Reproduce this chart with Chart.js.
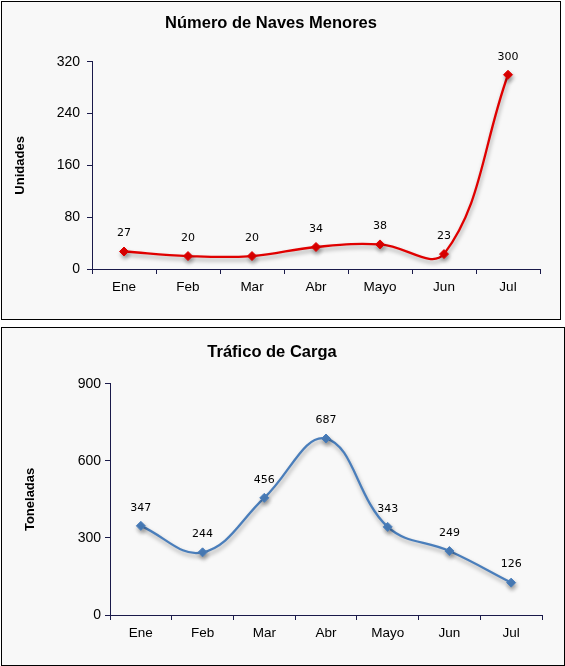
<!DOCTYPE html>
<html>
<head>
<meta charset="utf-8">
<script src="https://cdn.jsdelivr.net/npm/chart.js"></script>
<style>
  body { margin: 0; background: #fff; }
  .box { position: absolute; border: 1px solid #000; box-sizing: border-box; background: #f8f8f8; }
  #box1 { left: 1px; top: 1px; width: 560px; height: 319px; }
  #box2 { left: 1px; top: 327px; width: 564px; height: 339px; }
</style>
</head>
<body>
<div class="box" id="box1"><canvas id="graphCanvas"></canvas></div>
<div class="box" id="box2"><canvas id="graphCanvas2"></canvas></div>
<script>
var meses = ["Ene", "Feb", "Mar", "Abr", "Mayo", "Jun", "Jul"];
var naves = [27, 20, 20, 34, 38, 23, 300];
var carga = [347, 244, 456, 687, 343, 249, 126];
var navesTicks = [0, 80, 160, 240, 320];
var cargaTicks = [0, 300, 600, 900];

var axisColor = "#1a1a4a";

// sombra bajo la linea, como en Excel
var shadowPlugin = {
  id: "shadow",
  beforeDatasetsDraw: function (chart) {
    var ctx = chart.ctx;
    ctx.save();
    ctx.shadowColor = "rgba(0,0,0,0.35)";
    ctx.shadowBlur = 4;
    ctx.shadowOffsetX = 1;
    ctx.shadowOffsetY = 3;
  },
  afterDatasetsDraw: function (chart) {
    chart.ctx.restore();
  }
};

// etiquetas de valor encima de cada punto
var labelPlugin = {
  id: "valueLabels",
  afterDraw: function (chart) {
    var ctx = chart.ctx;
    var ds = chart.data.datasets[0];
    var meta = chart.getDatasetMeta(0);
    ctx.save();
    ctx.font = "11px 'DejaVu Sans'";
    ctx.fillStyle = "#000";
    ctx.textAlign = "center";
    ctx.textBaseline = "middle";
    meta.data.forEach(function (pt, i) {
      ctx.fillText(ds.data[i], pt.x, pt.y - 18);
    });
    ctx.restore();
  }
};

function makeChart(target, opts) {
  return new Chart(target, {
    type: "line",
    data: {
      labels: meses,
      datasets: [
        {
          data: opts.data,
          borderColor: opts.color,
          backgroundColor: opts.color,
          borderWidth: 2.3,
          tension: 0.4,
          pointStyle: "rectRot",
          pointRadius: 4.5,
          pointBorderWidth: 1,
          fill: false
        }
      ]
    },
    options: {
      responsive: true,
      maintainAspectRatio: false,
      animation: false,
      layout: { padding: { left: 0, right: opts.right, top: 0, bottom: 0 } },
      plugins: {
        legend: { display: false },
        tooltip: { enabled: false },
        title: {
          display: true,
          text: opts.title,
          color: "#000",
          font: { family: "'Liberation Sans', Arial", size: 16.5, weight: "bold", lineHeight: 1.2 },
          padding: { top: opts.titleTop, bottom: opts.titleBottom }
        }
      },
      scales: {
        x: {
          offset: true,
          grid: { offset: true, drawOnChartArea: false, drawTicks: true, tickLength: 5, color: axisColor },
          border: { color: axisColor, width: 1 },
          ticks: { color: "#000", padding: 5, font: { family: "'Liberation Sans', Arial", size: 13.5 } },
          afterFit: function (scale) { scale.height = 50; }
        },
        y: {
          min: 0,
          max: opts.ticks[opts.ticks.length - 1],
          afterBuildTicks: function (scale) {
            scale.ticks = opts.ticks.map(function (v) { return { value: v }; });
          },
          grid: { drawOnChartArea: false, drawTicks: true, tickLength: 5, color: axisColor },
          border: { color: axisColor, width: 1 },
          ticks: { color: "#000", padding: opts.tickPad, font: { family: "'Liberation Sans', Arial", size: 14 } },
          title: {
            display: true,
            text: opts.yTitle,
            color: "#000",
            font: { family: "'Liberation Sans', Arial", size: 13, weight: "bold" },
            padding: { top: opts.yTitlePad, bottom: 0 }
          },
          afterFit: function (scale) { scale.width = opts.yWidth; }
        }
      }
    },
    plugins: [shadowPlugin, labelPlugin]
  });
}

makeChart(document.getElementById("graphCanvas"), {
  data: naves,
  color: "#e00000",
  title: "Número de Naves Menores",
  yTitle: "Unidades",
  ticks: navesTicks,
  right: 20,
  titleTop: 12,
  titleBottom: 28,
  yWidth: 90,
  tickPad: 7,
  yTitlePad: 11
});

makeChart(document.getElementById("graphCanvas2"), {
  data: carga,
  color: "#4a7ebb",
  title: "Tráfico de Carga",
  yTitle: "Toneladas",
  ticks: cargaTicks,
  right: 22,
  titleTop: 15,
  titleBottom: 21,
  yWidth: 108,
  tickPad: 4,
  yTitlePad: 21
});
</script>
</body>
</html>
